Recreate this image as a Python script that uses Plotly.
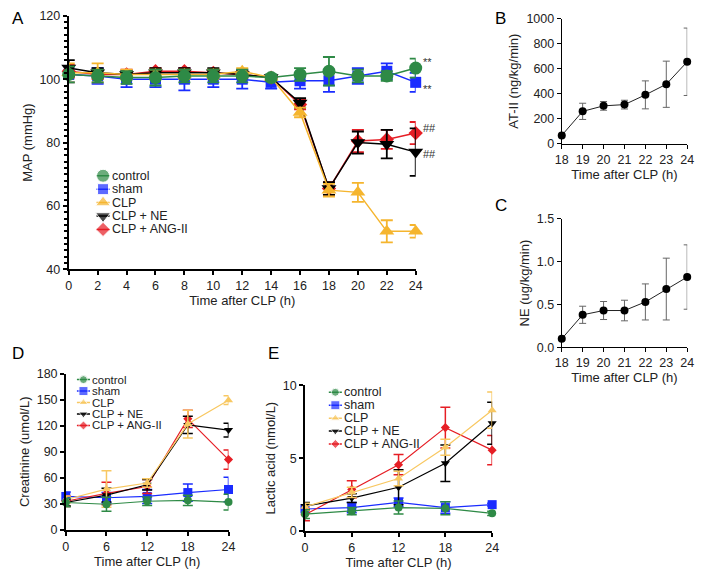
import plotly.graph_objects as go

W, H = 704, 570

# ---- data -------------------------------------------------------------
groups = ["control", "sham", "CLP", "CLP + NE", "CLP + ANG-II"]

hours_a = [0, 2, 4, 6, 8, 10, 12, 14, 16, 18, 20, 22, 24]
map_control = [101.5, 101, 100.5, 100.5, 101, 101, 101, 100.5, 101.5, 102.5, 101, 101, 103.5]
map_control_sd = [2.5, 2, 2, 2.5, 2, 2, 2, 1, 2, 4.5, 2, 1.5, 3]
map_sham = [101.5, 101, 100, 100, 100, 100, 100, 99, 99.5, 99.5, 101, 102.5, 99]
map_sham_sd = [2.5, 2.5, 2.5, 2.5, 3.5, 2.5, 3, 2, 2.5, 3.5, 2.5, 2.5, 3]
map_clp = [102, 102, 101.5, 101.5, 101.5, 101.5, 102.5, 100.5, 89.5, 65, 64.3, 52, 52]
map_clp_sd = [3, 3, 1.5, 1.5, 1.5, 1.5, 1, 0.5, 1.5, 2, 3, 3.5, 2]
map_ne = [103.5, 102, 101.5, 102, 102, 102, 101.5, 100.5, 92.5, 65.5, 80, 79.5, 77]
map_ne_sd = [2.5, 1.5, 1, 1.5, 1.5, 1.5, 1, 0.5, 1.5, 2, 3.5, 4.5, 7.5]
map_ang = [102.5, 101.5, 101.5, 102.5, 102.5, 102, 101.5, 100.5, 92, 65.5, 80.5, 81, 83]
map_ang_sd = [2, 1.5, 1.5, 1, 1, 1, 1, 0.5, 1.5, 2, 3.5, 3, 3.5]

hours_bc = [18, 19, 20, 21, 22, 23, 24]
at2_dose = [65, 258, 302, 312, 390, 475, 655]
at2_dose_sd = [5, 65, 35, 35, 112, 185, 270]
ne_dose = [0.10, 0.38, 0.43, 0.43, 0.53, 0.68, 0.82]
ne_dose_sd = [0.01, 0.10, 0.105, 0.12, 0.21, 0.36, 0.375]

hours_de = [0, 6, 12, 18, 24]
cre_control = [31.5, 29.5, 33, 34, 32]
cre_control_sd = [5, 8, 5, 6, 9]
cre_sham = [38.5, 37, 38.5, 43, 46.5]
cre_sham_sd = [5, 6, 8, 10, 14]
cre_clp = [35, 47, 54, 122, 149.5]
cre_clp_sd = [4, 21, 5, 16, 5]
cre_ne = [31.5, 40, 52, 121, 115]
cre_ne_sd = [4, 8, 6, 10, 8]
cre_ang = [33, 42, 50, 128, 81]
cre_ang_sd = [6, 13, 8, 10, 11]

lac_control = [1.15, 1.35, 1.6, 1.55, 1.2]
lac_control_sd = [0.3, 0.25, 0.45, 0.45, 0.15]
lac_sham = [1.5, 1.6, 1.95, 1.6, 1.8]
lac_sham_sd = [0.25, 0.35, 0.3, 0.4, 0.1]
lac_clp = [1.65, 2.65, 3.6, 5.75, 8.3]
lac_clp_sd = [0.25, 0.35, 0.5, 0.55, 1.25]
lac_ne = [1.7, 2.25, 3.0, 4.65, 7.4]
lac_ne_sd = [0.25, 0.3, 1.2, 1.25, 1.45]
lac_ang = [1.1, 2.85, 4.55, 7.1, 5.55]
lac_ang_sd = [0.4, 0.6, 0.7, 1.4, 1.0]

# ---- styles -----------------------------------------------------------
FONT = "Liberation Sans, Arial, sans-serif"
symbols = ["circle", "square", "triangle-up", "triangle-down", "diamond"]
colors_a = ["#2e8a46", "#1a2cff", "#f5b52e", "#000000", "#e61e25"]
colors_de = ["#2e8a46", "#1a2cff", "#f8c862", "#000000", "#e61e25"]
size_a = [13, 11, 13, 13, 11]
size_de = [8, 9, 8, 8, 7]
draw_order = [1, 4, 3, 2, 0]  # sham at the back, control on top


def px_x(p):
    return p / W


def px_y(p):
    return 1 - p / H


fig = go.Figure()


def add_group(x, y, sd, i, xa, ya, colors, sizes, lw, cap):
    fig.add_trace(go.Scatter(
        x=x, y=y, xaxis=xa, yaxis=ya, mode="lines+markers", name=groups[i],
        showlegend=False, cliponaxis=False,
        line=dict(color=colors[i], width=lw),
        marker=dict(symbol=symbols[i], size=sizes[i], color=colors[i]),
        error_y=dict(type="data", array=sd, color=colors[i], thickness=lw + 0.3, width=cap),
    ))


# panel A
map_vals = [map_control, map_sham, map_clp, map_ne, map_ang]
map_sds = [map_control_sd, map_sham_sd, map_clp_sd, map_ne_sd, map_ang_sd]
for i in draw_order:
    add_group(hours_a, map_vals[i], map_sds[i], i, "x", "y", colors_a, size_a, 1.5, 6)

# panels B, C
for xs, ys, sds, xa, ya in [(hours_bc, at2_dose, at2_dose_sd, "x2", "y2"),
                            (hours_bc, ne_dose, ne_dose_sd, "x3", "y3")]:
    fig.add_trace(go.Scatter(
        x=xs, y=ys, xaxis=xa, yaxis=ya, mode="lines+markers", showlegend=False,
        cliponaxis=False,
        line=dict(color="#222222", width=1),
        marker=dict(size=8, color="black"),
        error_y=dict(type="data", array=sds, color="#666666", thickness=1, width=3.5),
    ))

# panels D, E
cre_vals = [cre_control, cre_sham, cre_clp, cre_ne, cre_ang]
cre_sds = [cre_control_sd, cre_sham_sd, cre_clp_sd, cre_ne_sd, cre_ang_sd]
lac_vals = [lac_control, lac_sham, lac_clp, lac_ne, lac_ang]
lac_sds = [lac_control_sd, lac_sham_sd, lac_clp_sd, lac_ne_sd, lac_ang_sd]
for i in draw_order:
    add_group(hours_de, cre_vals[i], cre_sds[i], i, "x4", "y4", colors_de, size_de, 1.2, 5)
for i in draw_order:
    add_group(hours_de, lac_vals[i], lac_sds[i], i, "x5", "y5", colors_de, size_de, 1.2, 5)

# ---- custom legends (one mini axis each) ------------------------------
legend_specs = [
    # xaxis, yaxis, colors, sizes, marker px x, first row px y, row step, font size
    ("x6", "y6", colors_a, size_a, 98, 173, 13.75, 12.5),
    ("x7", "y7", colors_de, size_de, 78, 382, 11.75, 11.5),
    ("x8", "y8", colors_de, size_de, 335, 395, 13.25, 12.5),
]
legend_axes = {}
annotations = []
for xa, ya, cols, sizes, mx, my, step, fs in legend_specs:
    for i, g in enumerate(groups):
        fig.add_trace(go.Scatter(
            x=[-1, 0, 1], y=[g, g, g], xaxis=xa, yaxis=ya, mode="lines+markers",
            showlegend=False, cliponaxis=False, hoverinfo="skip",
            line=dict(color=cols[i], width=1.5),
            marker=dict(symbol=symbols[i], size=[0, sizes[i], 0], color=cols[i]),
        ))
        annotations.append(dict(x=1, y=g, xref=xa, yref=ya, text=g, showarrow=False,
                                xanchor="left", yanchor="middle", xshift=1, borderpad=0,
                                font=dict(size=fs, color="#222222", family=FONT)))
    n = len(groups)
    half = step / 2
    legend_axes["xaxis" + xa[1:]] = dict(domain=[px_x(mx - 8), px_x(mx + 8)], range=[-1.2, 1.2],
                                         visible=False, anchor=ya)
    legend_axes["yaxis" + ya[1:]] = dict(domain=[px_y(my + (n - 1) * step + half), px_y(my - half)],
                                         type="category", categoryarray=groups,
                                         range=[n - 0.5, -0.5], visible=False, anchor=xa)

# ---- significance marks ----------------------------------------------
for yv, txt, ys in [(map_control[-1], "**", 6), (map_sham[-1], "**", -7),
                    (map_ang[-1], "##", 5), (map_ne[-1], "##", -2)]:
    annotations.append(dict(x=24, y=yv, xref="x", yref="y", text=txt, showarrow=False,
                            xanchor="left", xshift=5, yshift=ys,
                            font=dict(size=11, color="#333333", family=FONT)))

# ---- panel letters ---------------------------------------------------
for letter, lx, ly in [("A", 3, 12), ("B", 496, 12), ("C", 496, 204), ("D", 3, 355), ("E", 264, 355)]:
    annotations.append(dict(x=px_x(lx), y=px_y(ly), xref="paper", yref="paper", text=letter,
                            showarrow=False, xanchor="left", yanchor="middle",
                            font=dict(size=17, color="black", family=FONT)))

tickfont = dict(size=12.5, color="#222222", family=FONT)
titlefont = dict(size=13, color="#222222", family=FONT)


def axis(dom, rng, dtick, lw, title, standoff, anchor, **kw):
    d = dict(domain=dom, range=rng, dtick=dtick, showgrid=False, zeroline=False,
             showline=True, linecolor="black", linewidth=lw, ticks="outside",
             ticklen=4, tickwidth=lw, tickcolor="black", tickfont=tickfont,
             title=dict(text=title, font=titlefont, standoff=standoff), anchor=anchor)
    d.update(kw)
    return d


fig.update_layout(
    width=W, height=H, margin=dict(l=0, r=0, t=0, b=0),
    paper_bgcolor="white", plot_bgcolor="white", showlegend=False,
    font=dict(family=FONT, color="#222222"),
    xaxis=axis([px_x(63), px_x(417)], [0, 24], 2, 2, "Time after CLP (h)", 2, "y"),
    yaxis=axis([px_y(269), px_y(9)], [40, 120], 20, 2, "MAP (mmHg)", 4, "x",
               minor=dict(dtick=2, ticklen=3, tickwidth=1.5, ticks="outside", tickcolor="black")),
    xaxis2=axis([px_x(566), px_x(694)], [18, 24], 1, 1, "Time after CLP (h)", 2, "y2"),
    yaxis2=axis([px_y(140), px_y(12)], [0, 1000], 200, 1, "AT-II (ng/kg/min)", 4, "x2"),
    xaxis3=axis([px_x(566), px_x(694)], [18, 24], 1, 1, "Time after CLP (h)", 2, "y3"),
    yaxis3=axis([px_y(349), px_y(217)], [0, 1.5], 0.5, 1, "NE (ug/kg/min)", 4, "x3",
                tickformat=".1f"),
    xaxis4=axis([px_x(60), px_x(226)], [0, 24], 6, 1.5, "Time after CLP (h)", 2, "y4"),
    yaxis4=axis([px_y(536), px_y(376)], [0, 180], 30, 1.5, "Creatinine (umol/L)", 4, "x4"),
    xaxis5=axis([px_x(304), px_x(495)], [0, 24], 6, 1.5, "Time after CLP (h)", 2, "y5"),
    yaxis5=axis([px_y(537), px_y(388)], [0, 10], 5, 1.5, "Lactic acid (nmol/L)", 4, "x5"),
    annotations=annotations,
    **legend_axes,
)

# the page body has an 8px default margin; drop it so the figure sits at 0,0
fig.write_html("out.html", config={"displayModeBar": False},
               post_script="document.body.style.margin='0';")
